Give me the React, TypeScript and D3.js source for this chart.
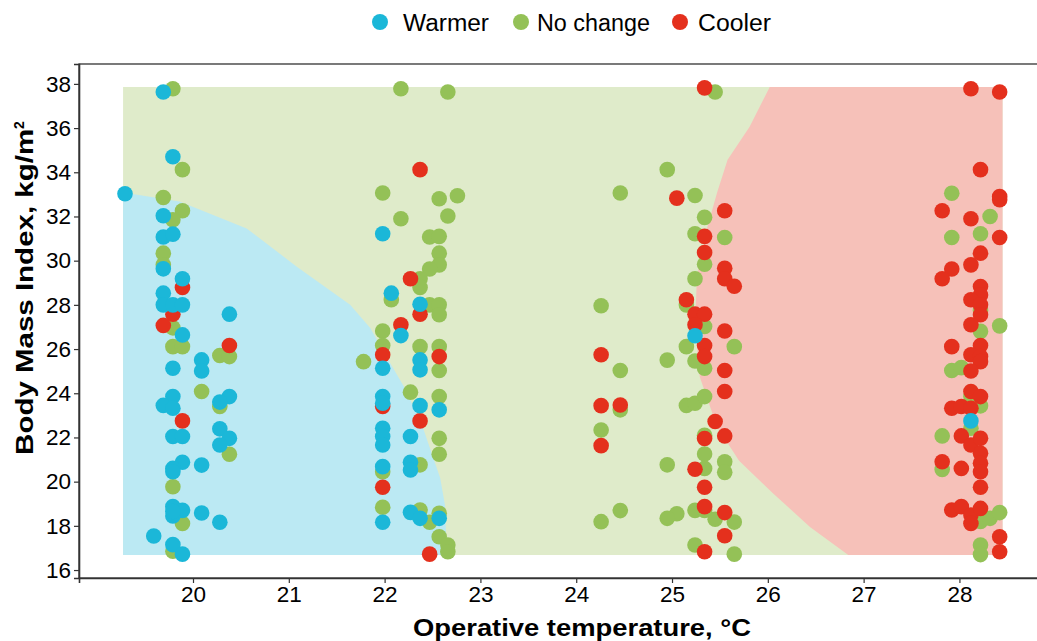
import * as d3 from 'd3';
import { useEffect, useRef } from 'react';

// [operative temperature °C, BMI]
const warmerPoints: [number, number][] = [
    [19.69, 37.63], [19.79, 34.7], [19.29, 33.03], [19.69, 32.03], [19.69, 31.07], [19.79, 31.2],
    [19.69, 29.63], [19.89, 29.18], [19.69, 28.53], [19.69, 28.0], [19.79, 28.0], [19.89, 28.0],
    [19.89, 26.64], [20.38, 27.58], [20.09, 25.51], [20.09, 25.01], [19.79, 25.13], [19.79, 23.85],
    [19.69, 23.45], [19.79, 23.32], [20.38, 23.85], [20.28, 23.6], [20.28, 22.39], [20.38, 21.96],
    [20.28, 21.66], [19.79, 22.04], [19.89, 22.04], [19.89, 20.88], [19.79, 20.6], [19.79, 20.45],
    [20.09, 20.75], [19.79, 18.87], [19.89, 18.7], [19.79, 18.45], [19.79, 18.65], [20.09, 18.58],
    [20.28, 18.16], [19.59, 17.54], [19.79, 17.15], [19.89, 16.72],
    [21.98, 31.22], [22.07, 28.53], [22.37, 28.03], [22.17, 26.61], [21.98, 25.13], [22.37, 25.51],
    [22.37, 25.06], [21.98, 23.85], [21.98, 23.55], [22.37, 23.44], [22.57, 23.25], [21.98, 22.42],
    [21.98, 22.04], [21.98, 21.66], [22.27, 22.04], [22.27, 20.88], [22.27, 20.53], [21.98, 20.68],
    [21.98, 18.16], [22.27, 18.61], [22.37, 18.34], [22.57, 18.34],
    [25.24, 26.6], [28.12, 22.75],
];

const noChangePoints: [number, number][] = [
    [19.79, 37.78], [19.89, 34.12], [19.69, 32.86], [19.89, 32.26], [19.79, 31.85], [19.69, 30.34],
    [19.69, 29.81], [19.79, 26.96], [19.79, 26.11], [19.89, 26.11], [20.28, 25.71], [20.38, 25.66],
    [20.09, 24.08], [20.28, 23.4], [20.38, 21.24], [19.79, 19.77], [19.89, 18.11], [19.79, 16.85],
    [22.17, 37.78], [22.66, 37.63], [21.98, 33.06], [22.57, 32.8], [22.76, 32.94], [22.66, 32.02],
    [22.17, 31.9], [22.47, 31.07], [22.57, 31.1], [22.57, 30.34], [22.57, 29.81], [22.47, 29.62],
    [22.37, 29.18], [22.37, 28.79], [22.07, 28.23], [22.47, 28.0], [22.57, 28.0], [22.57, 27.55],
    [21.98, 26.82], [21.98, 26.16], [21.78, 25.43], [22.37, 26.11], [22.57, 26.11], [22.57, 25.03],
    [22.27, 24.05], [22.57, 23.85], [22.57, 21.96], [22.57, 21.24], [22.37, 20.76], [21.98, 20.45],
    [21.98, 18.84], [22.37, 18.72], [22.47, 18.16], [22.57, 18.57], [22.57, 17.51], [22.66, 17.13],
    [22.66, 16.83],
    [24.26, 27.96], [24.46, 25.03], [24.46, 23.25], [24.26, 22.34], [24.26, 18.19], [24.46, 18.69],
    [24.46, 33.06],
    [24.95, 34.12], [25.45, 37.63], [25.24, 32.95], [25.34, 31.96], [25.24, 31.22], [25.55, 31.05],
    [25.34, 29.84], [25.24, 29.18], [25.15, 28.0], [25.34, 27.02], [25.15, 26.11], [25.65, 26.11],
    [24.95, 25.5], [25.24, 25.46], [25.34, 25.13], [25.15, 23.45], [25.24, 23.55], [25.34, 23.85],
    [25.34, 22.1], [25.34, 21.25], [24.95, 20.76], [25.34, 20.6], [25.55, 20.9], [25.55, 20.42],
    [25.24, 18.7], [25.34, 18.7], [25.05, 18.55], [24.95, 18.34], [25.45, 18.3], [25.65, 18.17],
    [25.24, 17.13], [25.65, 16.72],
    [27.92, 33.05], [28.32, 32.0], [27.92, 31.05], [28.22, 31.22], [28.22, 27.75], [28.22, 26.8],
    [28.42, 27.05], [27.92, 25.03], [28.02, 25.16], [28.12, 23.85], [28.22, 23.43], [27.82, 22.07],
    [28.12, 22.42], [27.82, 20.55], [28.22, 18.2], [28.32, 18.34], [28.42, 18.6], [28.22, 17.13],
    [28.22, 16.7],
];

const coolerPoints: [number, number][] = [
    [19.89, 28.79], [19.79, 27.58], [19.69, 27.07], [20.38, 26.16], [19.89, 22.75],
    [22.37, 34.12], [22.27, 29.18], [22.37, 27.58], [22.17, 27.1], [21.98, 25.74], [22.57, 25.66],
    [21.98, 23.4], [22.37, 22.75], [21.98, 19.75], [22.47, 16.72],
    [24.26, 25.74], [24.26, 23.44], [24.46, 23.47], [24.26, 21.63],
    [25.34, 37.82], [25.05, 32.83], [25.55, 32.26], [25.34, 31.1], [25.34, 30.37], [25.55, 29.66],
    [25.55, 29.18], [25.65, 28.84], [25.15, 28.23], [25.24, 27.58], [25.34, 27.58], [25.24, 27.1],
    [25.55, 26.82], [25.34, 26.16], [25.34, 25.66], [25.55, 25.03], [25.55, 24.08], [25.45, 22.72],
    [25.34, 21.95], [25.55, 22.07], [25.24, 20.56], [25.34, 19.75], [25.34, 18.87], [25.55, 18.6],
    [25.55, 17.55], [25.34, 16.83],
    [28.12, 37.78], [28.42, 37.63], [28.22, 34.12], [28.42, 32.9], [28.42, 32.76], [27.82, 32.26],
    [28.12, 31.9], [28.42, 31.05], [28.22, 30.34], [28.12, 29.81], [27.92, 29.62], [27.82, 29.18],
    [28.22, 28.83], [28.22, 28.45], [28.12, 28.23], [28.22, 28.0], [28.22, 27.55], [28.12, 27.1],
    [27.92, 26.11], [28.22, 26.16], [28.12, 25.74], [28.22, 25.66], [28.22, 25.43], [28.12, 25.01],
    [28.12, 24.08], [28.22, 23.85], [27.92, 23.32], [28.02, 23.4], [28.12, 23.32], [28.02, 22.07],
    [28.12, 21.66], [28.22, 21.96], [28.22, 21.28], [28.22, 20.83], [28.22, 20.45], [27.82, 20.9],
    [28.02, 20.6], [28.22, 19.75], [27.92, 18.72], [28.02, 18.87], [28.12, 18.49], [28.22, 18.79],
    [28.12, 18.11], [28.42, 17.51], [28.42, 16.83],
];

// prediction surface: extent [tMin, tMax] x [bmiMin, bmiMax]
const gridTemp = [19.27, 28.45];
const gridBmi = [16.68, 37.86];

// edge of the "warmer" region (temperature, BMI)
const warmerEdge: [number, number][] = [
    [19.27, 33.09], [19.86, 32.68], [20.56, 31.46], [21.08, 29.74], [21.64, 28.0], [21.85, 26.95],
    [22.07, 25.28], [22.21, 24.24], [22.39, 22.57], [22.45, 21.81], [22.58, 20.17], [22.63, 18.94],
    [22.65, 16.68],
];

// edge of the "cooler" region (temperature, BMI)
const coolerEdge: [number, number][] = [
    [26.02, 37.86], [25.81, 36.06], [25.58, 34.57], [25.47, 33.07], [25.37, 31.53], [25.26, 29.27],
    [25.24, 27.0], [25.29, 24.74], [25.47, 22.48], [25.7, 20.95], [26.05, 19.49], [26.44, 17.95],
    [26.84, 16.68],
];

const xTicks = [20, 21, 22, 23, 24, 25, 26, 27, 28];
const yTicks = [16, 18, 20, 22, 24, 26, 28, 30, 32, 34, 36, 38];

const legendItems = ['Warmer', 'No change', 'Cooler'];
const pointColors = ['#1bb7d8', '#94c157', '#e4301d'];
const areaColors = ['#bbe9f3', '#dfebca', '#f6c1b9'];

export default function App() {
    const svgRef = useRef<SVGSVGElement>(null);
    const width = 1037;
    const height = 641;
    const font = '"Liberation Sans", Arial, sans-serif';

    useEffect(() => {
        const svg = d3.select(svgRef.current);
        svg.selectAll('*').remove();

        const xScale = d3.scaleLinear().domain([18.81, 28.96]).range([79, 1051.4]);
        const yScale = d3.scaleLinear().domain([15.64, 38.9]).range([578, 64]);

        svg.append('rect').attr('width', width).attr('height', height).attr('fill', 'white');

        const area = svg.append('g');
        area.append('rect')
            .attr('x', xScale(gridTemp[0]))
            .attr('y', yScale(gridBmi[1]))
            .attr('width', xScale(gridTemp[1]) - xScale(gridTemp[0]))
            .attr('height', yScale(gridBmi[0]) - yScale(gridBmi[1]))
            .attr('fill', areaColors[1]);

        const line = d3.line<[number, number]>()
            .x((d) => xScale(d[0]))
            .y((d) => yScale(d[1]));

        const warmerPoly: [number, number][] = [
            [gridTemp[0], gridBmi[0]],
            ...warmerEdge,
            [warmerEdge[warmerEdge.length - 1][0], gridBmi[0]],
        ];
        area.append('path')
            .attr('d', line(warmerPoly) + 'Z')
            .attr('fill', areaColors[0]);

        const coolerPoly: [number, number][] = [
            [gridTemp[1], gridBmi[1]],
            ...coolerEdge,
            [gridTemp[1], gridBmi[0]],
        ];
        area.append('path')
            .attr('d', line(coolerPoly) + 'Z')
            .attr('fill', areaColors[2]);

        // points: no change, cooler, warmer
        const groups: [[number, number][], string][] = [
            [noChangePoints, pointColors[1]],
            [coolerPoints, pointColors[2]],
            [warmerPoints, pointColors[0]],
        ];
        groups.forEach(([pts, color]) => {
            svg.append('g')
                .selectAll('circle')
                .data(pts)
                .enter()
                .append('circle')
                .attr('cx', (d) => xScale(d[0]))
                .attr('cy', (d) => yScale(d[1]))
                .attr('r', 7.8)
                .attr('fill', color);
        });

        // panel border
        svg.append('rect')
            .attr('x', 79)
            .attr('y', 64)
            .attr('width', 1051.4 - 79)
            .attr('height', 578 - 64)
            .attr('fill', 'none')
            .attr('stroke', '#333')
            .attr('stroke-width', 1.3);

        const yAxis = svg.append('g')
            .attr('transform', 'translate(79,0)')
            .call(d3.axisLeft(yScale).tickValues(yTicks).tickSize(5).tickPadding(3).tickFormat(d3.format('d')));
        const xAxis = svg.append('g')
            .attr('transform', 'translate(0,578)')
            .call(d3.axisBottom(xScale).tickValues(xTicks).tickSize(5).tickPadding(3).tickFormat(d3.format('d')));

        [xAxis, yAxis].forEach((ax) => {
            ax.select('.domain').attr('stroke', '#333').attr('stroke-width', 1.6);
            ax.selectAll('.tick line').attr('stroke', '#333').attr('stroke-width', 1.2);
            ax.selectAll('.tick text')
                .attr('fill', 'black')
                .style('font-family', font)
                .style('font-size', '22.5px');
        });

        svg.append('text')
            .attr('x', 582)
            .attr('y', 636)
            .attr('text-anchor', 'middle')
            .attr('textLength', 338)
            .attr('lengthAdjust', 'spacingAndGlyphs')
            .style('font-family', font)
            .style('font-size', '23px')
            .style('font-weight', '700')
            .text('Operative temperature, °C');

        const yTitle = svg.append('text')
            .attr('transform', 'translate(33,288) rotate(-90)')
            .attr('text-anchor', 'middle')
            .style('font-family', font)
            .style('font-size', '23px')
            .style('font-weight', '700');
        yTitle.append('tspan')
            .attr('textLength', 326)
            .attr('lengthAdjust', 'spacingAndGlyphs')
            .text('Body Mass Index, kg/m');
        yTitle.append('tspan').attr('dy', -9).style('font-size', '14px').text('2');

        // legend
        const legendX = [380, 521, 680];
        const legendTextX = [403, 537, 698];
        const legendWidth = [86, 113, 73];
        legendItems.forEach((label, i) => {
            svg.append('circle')
                .attr('cx', legendX[i])
                .attr('cy', 22)
                .attr('r', 8)
                .attr('fill', pointColors[i]);
            svg.append('text')
                .attr('x', legendTextX[i])
                .attr('y', 31)
                .attr('textLength', legendWidth[i])
                .attr('lengthAdjust', 'spacingAndGlyphs')
                .style('font-family', font)
                .style('font-size', '23px')
                .text(label);
        });
    }, []);

    return (
        <svg
            ref={svgRef}
            width={width}
            height={height}
            style={{ position: 'absolute', left: 0, top: 0, overflow: 'hidden' }}
        ></svg>
    );
}
